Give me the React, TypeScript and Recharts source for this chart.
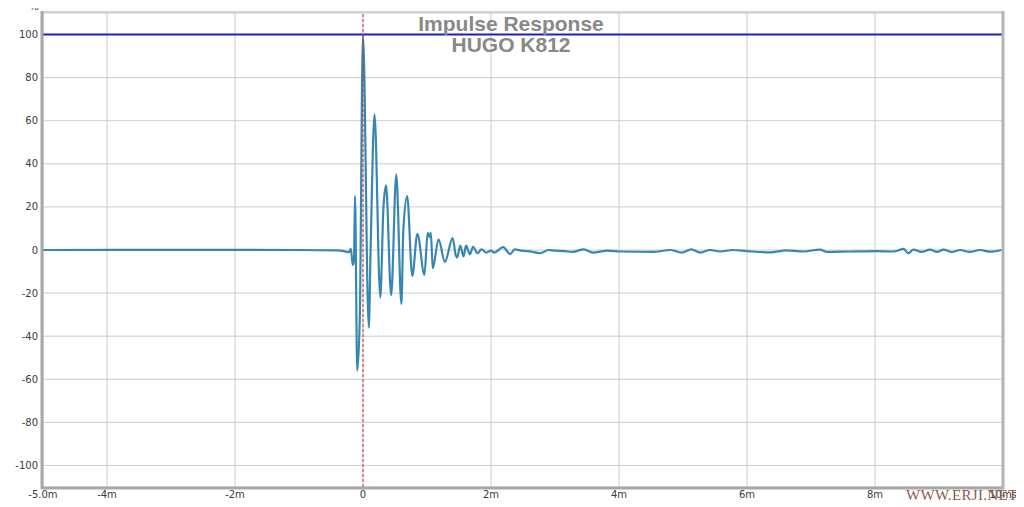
import React from 'react';
import { LineChart, Line, XAxis, YAxis, CartesianGrid, ReferenceLine } from 'recharts';

const timesMs = [
  -5.0, -3.0, -1.0, -0.4, -0.3, -0.22, -0.19, -0.16, -0.14, -0.125, -0.09, -0.05,
  0.0, 0.09, 0.12, 0.18, 0.27, 0.32, 0.36, 0.44, 0.52, 0.6, 0.63, 0.69, 0.77, 0.85,
  0.96, 1.01, 1.04, 1.06, 1.09, 1.18, 1.28, 1.4, 1.45, 1.47, 1.52, 1.57, 1.61, 1.67,
  1.72, 1.79, 1.85, 1.93, 2.0, 2.05, 2.19, 2.3, 2.37, 2.48, 2.64, 2.77, 2.9, 3.0,
  3.15, 3.27, 3.45, 3.59, 3.82, 4.02, 4.53, 4.8, 4.98, 5.13, 5.27, 5.42, 5.58, 5.78,
  6.0, 6.36, 6.62, 6.88, 7.14, 7.25, 7.61, 8.03, 8.29, 8.45, 8.52, 8.6, 8.73, 8.86,
  8.97, 9.07, 9.2, 9.33, 9.48, 9.64, 9.8, 9.98,
];

const impulsePct = [
  0, 0.1, 0, -0.2, -0.5, -1.0, 0.5, -7, -4, 25, -56, -31,
  100, -36, 2, 63, -22, 20, 30, -21, 35, -25, 9, 25, -12, 7.5,
  -11.5, 8, 6, 8, -8.5, 5, -5.5, 5.5, -2.5, -3.5, 2, -3, 2, -2,
  1.5, -1.5, 0.3, -1.2, -0.3, -1.2, 1.3, -1.9, 0.3, -0.3, -0.8, -1.5, 0, -0.3,
  -0.5, -0.9, 0.3, -1.2, -0.3, -0.7, -0.9, 0, -1.2, 0.3, -1.2, 0, -0.7, 0,
  -0.5, -1.1, -0.2, -0.7, 0.2, -0.9, -0.7, -0.5, -0.7, 0.5, -1.5, 0.2, -0.9, 0.2,
  -0.9, 0.2, -1.0, 0, -0.9, 0, -0.8, 0,
];

const xTicks = [-5, -4, -2, 0, 2, 4, 6, 8, 10];
const xTickLabels = ['-5.0m', '-4m', '-2m', '0', '2m', '4m', '6m', '8m', '10ms'];
const yTicks = [-100, -80, -60, -40, -20, 0, 20, 40, 60, 80, 100];

const titleLines = ['Impulse Response', 'HUGO K812'];
const yUnit = '%';
const watermark = 'WWW.ERJI.NET';

const data = timesMs.map((t, i) => ({ t, v: impulsePct[i] }));

const fmtX = (v: number) => {
  const i = xTicks.indexOf(v);
  return i >= 0 ? xTickLabels[i] : String(v);
};

export default function App() {
  return (
    <div style={{ position: 'relative', width: 1016, height: 499 }}>
      <LineChart
        width={1016}
        height={499}
        data={data}
        margin={{ top: 5, right: 21, bottom: 0, left: 0 }}
      >
        <CartesianGrid stroke="#cccccc" strokeWidth={1} />
        <XAxis
          dataKey="t"
          type="number"
          domain={[-5, 10]}
          ticks={xTicks}
          tickFormatter={fmtX}
          interval={0}
          height={20}
          tickSize={0}
          tickMargin={4}
          axisLine={false}
          tickLine={false}
          tick={{ fill: '#3c3c3c', fontSize: 10, fontFamily: 'DejaVu Sans' }}
          allowDataOverflow
        />
        <YAxis
          type="number"
          domain={[-110, 110]}
          ticks={yTicks}
          interval={0}
          width={35}
          tickSize={0}
          tickMargin={5}
          axisLine={false}
          tickLine={false}
          tick={{ fill: '#3c3c3c', fontSize: 10, fontFamily: 'DejaVu Sans' }}
          allowDataOverflow
        />
        <ReferenceLine y={100} stroke="#1f1fc4" strokeWidth={2} ifOverflow="extendDomain" />
        <Line
          type="monotone"
          dataKey="v"
          stroke="#3787b2"
          strokeWidth={2.2}
          dot={false}
          isAnimationActive={false}
        />
        <ReferenceLine x={0} stroke="#d03030" strokeWidth={1} strokeDasharray="3 2" />
      </LineChart>
      <svg
        width={1024}
        height={507}
        style={{ position: 'absolute', left: -8, top: -8, pointerEvents: 'none' }}
      >
        <line x1={41} y1={12} x2={1004} y2={12} stroke="#d4d4d4" strokeWidth={2} />
        <line x1={42} y1={11} x2={42} y2={489} stroke="#a8a8a8" strokeWidth={3} />
        <line x1={41} y1={488} x2={1004} y2={488} stroke="#a8a8a8" strokeWidth={3} />
        <line x1={1003} y1={11} x2={1003} y2={489} stroke="#b4b4b4" strokeWidth={3} />
        <text x={34} y={10} textAnchor="middle" fontSize={10} fontFamily="DejaVu Sans" fill="#555">
          {yUnit}
        </text>
        <text
          x={511}
          y={30.5}
          textAnchor="middle"
          fontSize={21}
          fontWeight="bold"
          fontFamily="Liberation Sans"
          fill="#888888"
        >
          {titleLines[0]}
        </text>
        <text
          x={511}
          y={51.5}
          textAnchor="middle"
          fontSize={21}
          fontWeight="bold"
          fontFamily="Liberation Sans"
          fill="#888888"
        >
          {titleLines[1]}
        </text>
        <text
          x={906}
          y={500}
          fontSize={15}
          fontFamily="Liberation Serif"
          fill="#8c5a4c"
          letterSpacing={0.3}
        >
          {watermark}
        </text>
      </svg>
    </div>
  );
}
